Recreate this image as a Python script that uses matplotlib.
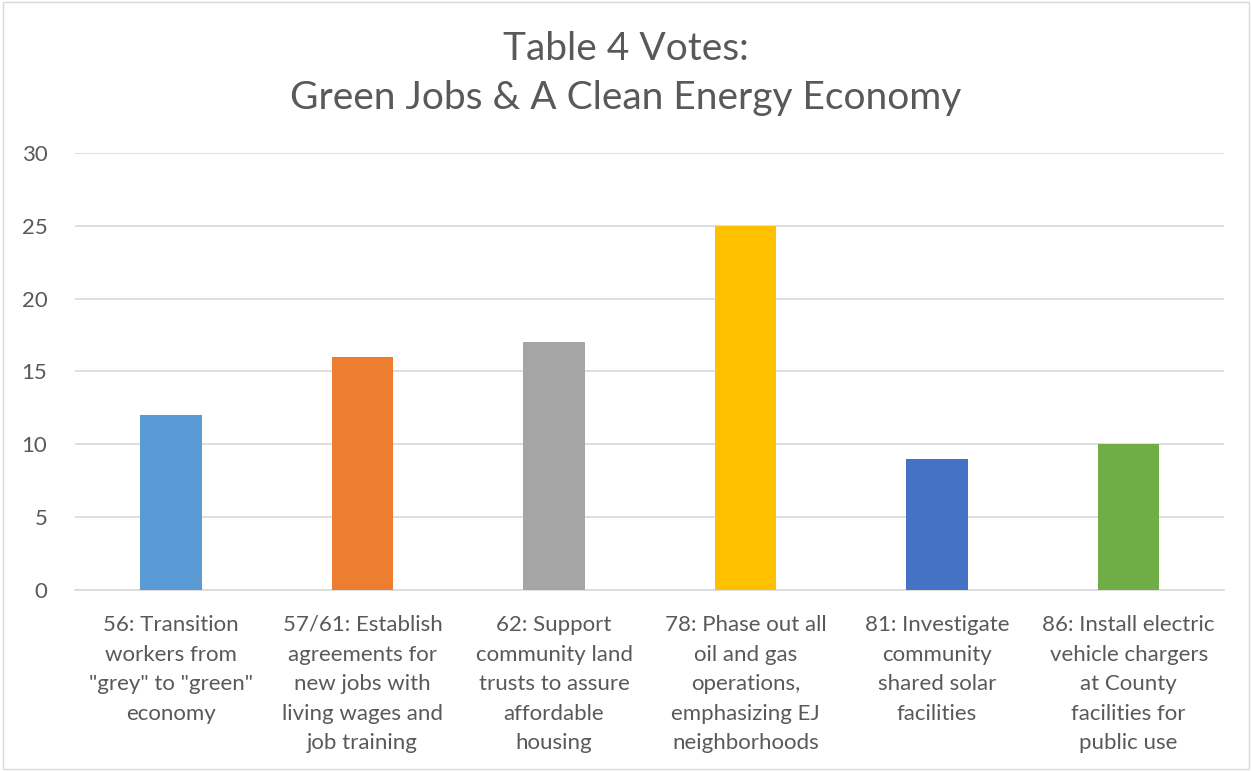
import matplotlib.pyplot as plt
from matplotlib.patches import Rectangle

# data
labels = [
    '56: Transition\nworkers from\n"grey" to "green"\neconomy',
    '57/61: Establish\nagreements for\nnew jobs with\nliving wages and\njob training',
    '62: Support\ncommunity land\ntrusts to assure\naffordable\nhousing',
    '78: Phase out all\noil and gas\noperations,\nemphasizing EJ\nneighborhoods',
    '81: Investigate\ncommunity\nshared solar\nfacilities',
    '86: Install electric\nvehicle chargers\nat County\nfacilities for\npublic use',
]
votes = [12, 16, 17, 25, 9, 10]
colors = ['#5B9BD5', '#ED7D31', '#A5A5A5', '#FFC000', '#4472C4', '#70AD47']
yticks = [0, 5, 10, 15, 20, 25, 30]

plt.rcParams['font.family'] = ['Lato', 'DejaVu Sans']
txt = '#595959'

fig = plt.figure(figsize=(12.52, 7.71), dpi=100)
ax = fig.add_axes([0.06, 0.2348, 0.918, 0.5668])

x = range(len(votes))
ax.bar(x, votes, width=0.32, color=colors, zorder=3)

ax.set_xlim(-0.5, len(votes) - 0.5)
ax.set_ylim(0, 30)
ax.set_yticks(yticks)
ax.set_xticks(list(x))
ax.set_xticklabels(labels, fontsize=16, color=txt, linespacing=1.6)
ax.tick_params(axis='y', labelsize=16, labelcolor=txt, length=0, pad=20)
ax.tick_params(axis='x', length=0, pad=18)
ax.grid(axis='y', color='#D9D9D9', linewidth=1.2, zorder=0)
for s in ['top', 'right', 'left']:
    ax.spines[s].set_visible(False)
ax.spines['bottom'].set_color('#D9D9D9')
ax.spines['bottom'].set_linewidth(1.2)

fig.text(0.5, 0.905, 'Table 4 Votes:\nGreen Jobs & A Clean Energy Economy',
         ha='center', va='center', fontsize=28, color=txt, linespacing=1.45)

fig.patches.append(Rectangle((0.002, 0.002), 0.996, 0.996, transform=fig.transFigure,
                             fill=False, edgecolor='#D9D9D9', linewidth=1))

fig.savefig('out.png', dpi=100)
